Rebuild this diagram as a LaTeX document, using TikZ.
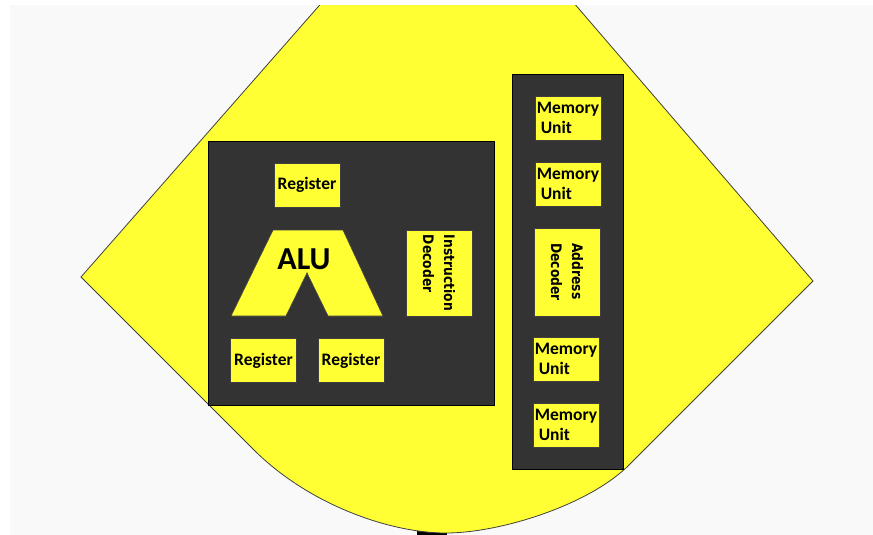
\documentclass[tikz,border=0pt]{standalone}
\usepackage{fontspec}
\setmainfont{Carlito}
\newfontfamily\decfont[FakeStretch=0.85]{DejaVu Sans}
\definecolor{bulb}{HTML}{FFFF33}
\definecolor{chip}{HTML}{333333}
\definecolor{paper}{HTML}{F9F9F9}

\begin{document}
\begin{tikzpicture}[x=1pt,y=-1pt,
 chipbox/.style={draw=black,fill=chip,line width=0.8},
 regbox/.style={draw=black!75,fill=bulb,line width=0.7,minimum width=66,minimum height=44,inner sep=0,font=\fontsize{17.5}{20}\selectfont\bfseries},
 membox/.style={regbox,align=left},
 decbox/.style={regbox,rotate=-90,align=left,font=\decfont\fontsize{14.5}{21}\selectfont\bfseries}]
 \useasboundingbox (0,0) rectangle (873,535);
 \fill[white] (0,0) rectangle (873,535);
 \fill[paper] (10,5) rectangle (873,535);
 \fill[black] (417,530) rectangle (447,540);
 \filldraw[fill=bulb,draw=black!75,line width=0.8] (328.5,-5) -- (81,277) -- (255,451) .. controls (310,505) and (390,533) .. (446,533) .. controls (500,533) and (590,505) .. (630,464) -- (813,281) -- (567,-5) -- cycle;
 \fill[white] (0,0) rectangle (873,5);
 \draw[chipbox] (208,141) rectangle (494,405);
 \draw[chipbox] (512,74) rectangle (623,469);
 \node[regbox] (regtop) at (307,185) {Register};
 \node[regbox] (regleft) at (263.5,360.5) {Register};
 \node[regbox] (regright) at (351,360.5) {Register};
 \filldraw[fill=bulb,draw=black!75,line width=0.7] (273,230) -- (343,230) -- (383,316) -- (328,316) -- (307,273) -- (286,316) -- (231,316) -- cycle;
 \node[font=\fontsize{32}{34}\selectfont\bfseries] (alu) at (304,259) {ALU};
 \node[decbox,minimum width=86,minimum height=66] (idec) at (439,273) {Instruction\\Decoder};
 \node[membox] (mem1) at (568,118) {Memory\\~Unit};
 \node[membox] (mem2) at (568,184) {Memory\\~Unit};
 \node[decbox,minimum width=88,minimum height=66] (adec) at (567,272) {Address\\Decoder};
 \node[membox] (mem3) at (566,359) {Memory\\~Unit};
 \node[membox] (mem4) at (566,425) {Memory\\~Unit};
\end{tikzpicture}
\end{document}
